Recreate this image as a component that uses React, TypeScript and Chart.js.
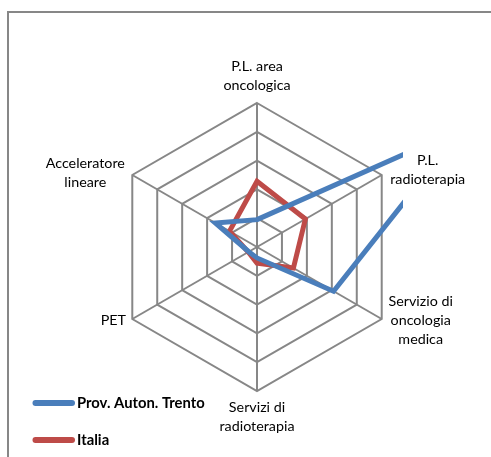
import React, { useEffect, useRef } from "react";
import { Chart, registerables } from "chart.js";

Chart.register(...registerables);

// ---- data ----
const categories: string[][] = [
  ["P.L. area", "oncologica"],
  ["P.L.", "radioterapia"],
  ["Servizio di", "oncologia", "medica"],
  ["Servizi di", "radioterapia"],
  ["PET"],
  ["Acceleratore", "lineare"],
];
const trento = [0.95, 8.25, 3.07, 0.38, 0.33, 1.67];
const italia = [2.28, 1.94, 1.46, 0.56, 0.35, 1.1];
const seriesNames = ["Prov. Auton. Trento", "Italia"];
const seriesColors = ["#4A7EBB", "#BE4B48"];

// ---- layout (label placement relative to each axis end) ----
const labelOffsets: { dx: number; dy: number }[] = [
  { dx: 0, dy: -37 },
  { dx: 46, dy: -15 },
  { dx: 39, dy: -18 },
  { dx: 0, dy: 16 },
  { dx: -19, dy: 1 },
  { dx: -47, dy: -12 },
];
const LINE_H = 19;
const FONT = "14.3px Lato, 'Open Sans', sans-serif";
const BOLD_FONT = "bold 14.8px Lato, 'Open Sans', sans-serif";
const GRID = "#878787";

const decor = {
  id: "decor",
  beforeDraw(chart: any) {
    const ctx = chart.ctx;
    ctx.save();
    ctx.fillStyle = "#ffffff";
    ctx.fillRect(0, 0, chart.width, chart.height);
    ctx.strokeStyle = GRID;
    ctx.lineWidth = 2;
    ctx.strokeRect(8, 12, chart.width + 40, chart.height + 40);
    ctx.restore();
  },
  afterDraw(chart: any) {
    const ctx = chart.ctx;
    const scale = chart.scales.r;
    ctx.save();
    ctx.fillStyle = "#000000";
    ctx.font = FONT;
    ctx.textAlign = "center";
    ctx.textBaseline = "middle";
    categories.forEach((lines, i) => {
      const p = scale.getPointPosition(i, scale.drawingArea);
      const off = labelOffsets[i];
      lines.forEach((t, j) => {
        ctx.fillText(t, p.x + off.dx, p.y + off.dy + j * LINE_H);
      });
    });
    // legend
    const legendX = 35.5;
    const legendY = [403, 440];
    seriesNames.forEach((name, i) => {
      ctx.strokeStyle = seriesColors[i];
      ctx.lineWidth = 6;
      ctx.lineCap = "round";
      ctx.beginPath();
      ctx.moveTo(legendX, legendY[i]);
      ctx.lineTo(legendX + 36.5, legendY[i]);
      ctx.stroke();
      ctx.font = BOLD_FONT;
      ctx.textAlign = "left";
      ctx.fillStyle = "#000000";
      ctx.fillText(name, 77, legendY[i]);
    });
    ctx.restore();
  },
};

export default function App() {
  const ref = useRef<HTMLCanvasElement | null>(null);
  useEffect(() => {
    if (!ref.current) return;
    const mk = (label: string, data: number[], color: string) => ({
      label,
      data,
      borderColor: color,
      backgroundColor: color,
      borderWidth: 5,
      fill: false,
      pointRadius: 0,
      pointHoverRadius: 0,
      tension: 0,
      borderJoinStyle: "miter" as const,
      clip: { left: 500, top: 500, right: 2, bottom: 500 },
    });
    const chart = new Chart(ref.current, {
      type: "radar",
      data: {
        labels: categories,
        datasets: [
          mk(seriesNames[0], trento, seriesColors[0]),
          mk(seriesNames[1], italia, seriesColors[1]),
        ],
      },
      options: {
        responsive: false,
        animation: false,
        layout: { padding: { left: 113, right: 90, top: 103, bottom: 66 } },
        plugins: { legend: { display: false }, tooltip: { enabled: false } },
        scales: {
          r: {
            min: 0,
            max: 5,
            ticks: { display: false, stepSize: 1 },
            pointLabels: { display: false },
            grid: { color: GRID, lineWidth: 2 },
            angleLines: { color: GRID, lineWidth: 2 },
          },
        },
      },
      plugins: [decor],
    });
    return () => chart.destroy();
  }, []);
  return (
    <div style={{ position: "absolute", left: 0, top: 0, width: 491, height: 457 }}>
      <canvas ref={ref} width={491} height={457} style={{ display: "block" }} />
    </div>
  );
}
